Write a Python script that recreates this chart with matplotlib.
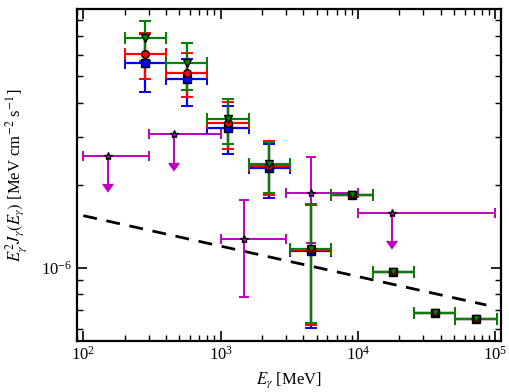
import matplotlib
matplotlib.use('Agg')
import matplotlib.pyplot as plt
import numpy as np

plt.rcParams['font.family'] = 'serif'
plt.rcParams['font.serif'] = ['Liberation Serif', 'DejaVu Serif']
plt.rcParams['mathtext.fontset'] = 'stix'

# energy bins of the three spectra (MeV)
e_mid = [283, 566, 1131, 2263, 4525, 9050, 18100, 36200, 72400]
e_lo = [200, 400, 800, 1600, 3200, 6400, 12800, 25600, 51200]
e_hi = [400, 800, 1600, 3200, 6400, 12800, 25600, 51200, 102400]

# E^2 J(E) values with upper / lower error ends (MeV cm^-2 s^-1)
blue_y = [5.60e-6, 4.87e-6, 3.24e-6, 2.31e-6, 1.155e-6, 1.842e-6, 9.65e-7, 6.86e-7, 6.50e-7]
blue_top = [7.13e-6, 5.80e-6, 3.89e-6, 2.84e-6, 1.69e-6, 1.842e-6, 9.65e-7, 6.86e-7, 6.50e-7]
blue_bot = [4.37e-6, 3.90e-6, 2.60e-6, 1.80e-6, 6.05e-7, 1.842e-6, 9.65e-7, 6.86e-7, 6.50e-7]

red_y = [6.04e-6, 5.12e-6, 3.37e-6, 2.35e-6, 1.16e-6, 1.842e-6, 9.65e-7, 6.86e-7, 6.50e-7]
red_top = [7.17e-6, 6.06e-6, 4.04e-6, 2.91e-6, 1.70e-6, 1.842e-6, 9.65e-7, 6.86e-7, 6.50e-7]
red_bot = [4.88e-6, 4.19e-6, 2.72e-6, 1.85e-6, 6.18e-7, 1.842e-6, 9.65e-7, 6.86e-7, 6.50e-7]

green_y = [6.91e-6, 5.57e-6, 3.48e-6, 2.39e-6, 1.167e-6, 1.842e-6, 9.65e-7, 6.86e-7, 6.50e-7]
green_top = [7.97e-6, 6.59e-6, 4.14e-6, 2.88e-6, 1.708e-6, 1.842e-6, 9.65e-7, 6.86e-7, 6.50e-7]
green_bot = [5.69e-6, 4.45e-6, 2.82e-6, 1.88e-6, 6.28e-7, 1.842e-6, 9.65e-7, 6.86e-7, 6.50e-7]

# magenta points, some of them upper limits
m_x = [151, 461, 1490, 4550, 17770]
m_lo = [100, 302, 1000, 2990, 9950]
m_hi = [302, 1000, 2990, 9950, 99100]
m_y = [2.56e-6, 3.07e-6, 1.277e-6, 1.88e-6, 1.58e-6]
m_top = [2.56e-6, 3.07e-6, 1.766e-6, 2.53e-6, 1.58e-6]
m_bot = [2.02e-6, 2.42e-6, 7.84e-7, 1.233e-6, 1.25e-6]
m_ul = [True, True, False, False, True]

# dashed reference line end points
line_x = [100, 86300]
line_y = [1.549e-6, 7.31e-7]

fig = plt.figure(figsize=(5.1, 3.92), dpi=100)
ax = fig.add_axes([0.151, 0.130, 0.831, 0.847])


def draw(x, lo, hi, y, top, bot, color, marker):
    x = np.array(x)
    y = np.array(y)
    xerr = [x - np.array(lo), np.array(hi) - x]
    yerr = [y - np.array(bot), np.array(top) - y]
    ax.errorbar(x, y, xerr=xerr, yerr=yerr, fmt=marker, color=color,
                mfc=color, mec='k', ms=5.5, elinewidth=1.6, capsize=4,
                capthick=1.4, zorder=3)


draw(e_mid, e_lo, e_hi, blue_y, blue_top, blue_bot, 'b', 's')
draw(e_mid, e_lo, e_hi, red_y, red_top, red_bot, 'r', 'o')
draw(e_mid, e_lo, e_hi, green_y, green_top, green_bot, 'g', 'v')

# magenta: two-sided errors and upper limits
mx = np.array(m_x)
my = np.array(m_y)
ul = np.array(m_ul)
two = ~ul
ax.errorbar(mx[two], my[two],
            xerr=[mx[two] - np.array(m_lo)[two], np.array(m_hi)[two] - mx[two]],
            yerr=[my[two] - np.array(m_bot)[two], np.array(m_top)[two] - my[two]],
            fmt='*', color='m', mfc='m', mec='k', ms=6, elinewidth=1.4,
            capsize=3.5, capthick=1.4, zorder=2)
ax.errorbar(mx[ul], my[ul],
            xerr=[mx[ul] - np.array(m_lo)[ul], np.array(m_hi)[ul] - mx[ul]],
            yerr=my[ul] - np.array(m_bot)[ul], uplims=True,
            fmt='*', color='m', mfc='m', mec='k', ms=6, elinewidth=1.4,
            capsize=3.5, capthick=1.4, zorder=2)

ax.plot(line_x, line_y, 'k--', lw=2, dashes=(5, 3.5), zorder=1)

ax.set_xscale('log')
ax.set_yscale('log')
ax.set_xlim(90, 1.1e5)
ax.set_ylim(5.4e-7, 8.8e-6)

ax.set_xlabel(r'$E_\gamma$ [MeV]', fontsize=12, labelpad=5)
ax.set_ylabel(r'$E_\gamma^2 J_\gamma(E_\gamma)$ [MeV cm$^{-2}$ s$^{-1}$]', fontsize=12, labelpad=9)

for s in ax.spines.values():
    s.set_linewidth(1.6)
ax.tick_params(which='both', direction='in', top=True, right=True, labelsize=12)
ax.tick_params(which='major', length=7, width=1.2)
ax.tick_params(which='minor', length=4, width=1.0)
ax.yaxis.set_minor_formatter(matplotlib.ticker.NullFormatter())

fig.savefig('out.png', dpi=100)
